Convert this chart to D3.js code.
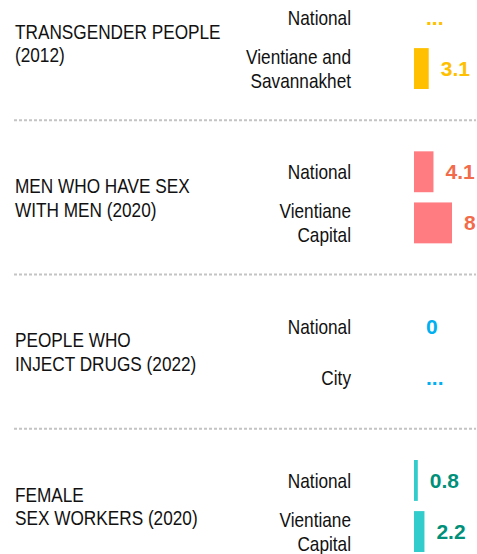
<!DOCTYPE html>
<html>
<head>
	<meta charset="utf-8">
	<script src="https://cdn.jsdelivr.net/npm/d3@7"></script>
	<title>Key populations</title>
	<style type="text/css">
		body { margin: 0; background: #fff; }
		.lbl { font-family: "Liberation Sans", Arial, sans-serif; font-size: 21px; fill: #111; }
		.val { font-family: "Liberation Sans", Arial, sans-serif; font-size: 21px; font-weight: bold; }
	</style>
</head>
<body>
	<script>
		// data
		var sectionLabels = [
			['TRANSGENDER PEOPLE', '(2012)'],
			['MEN WHO HAVE SEX', 'WITH MEN (2020)'],
			['PEOPLE WHO', 'INJECT DRUGS (2022)'],
			['FEMALE', 'SEX WORKERS (2020)']
		];
		var rowLabels = [
			[['National'], ['Vientiane and', 'Savannakhet']],
			[['National'], ['Vientiane', 'Capital']],
			[['National'], ['City']],
			[['National'], ['Vientiane', 'Capital']]
		];
		// null = no data ("...")
		var values = [
			[null, 3.1],
			[4.1, 8],
			[0, null],
			[0.8, 2.2]
		];

		var barColors = ['#FFC000', '#FF7C80', '#00B0F0', '#33CCCC'];
		var textColors = ['#FFC000', '#F26B4A', '#00B0F0', '#00907A'];

		var svgWidth = 477;
		var svgHeight = 554;
		var lineGap = 24;
		var narrow = 0.82;	// no narrow font installed, squeeze the regular one

		var svg = d3.select('body')
				.append('svg')
				.attr('width', svgWidth)
				.attr('height', svgHeight);

		var ySection = d3.scaleLinear()
				.domain([0, sectionLabels.length - 1])
				.range([43, 506]);

		var yRow = d3.scaleBand()
				.domain([0, 1])
				.range([-46, 46])
				.paddingInner(0.2);

		var xScale = d3.scaleLinear()
				.domain([0, 8])
				.range([414, 452]);

		// separators
		svg.selectAll('line.sep')
			.data(d3.range(1, sectionLabels.length))
			.enter()
			.append('line')
				.attr('class', 'sep')
				.attr('x1', 14)
				.attr('x2', 476)
				.attr('y1', function (d) { return ySection(d - 0.5); })
				.attr('y2', function (d) { return ySection(d - 0.5); })
				.attr('stroke', '#c4c4c4')
				.attr('stroke-width', 2)
				.attr('stroke-dasharray', '3,2');

		function multiLine(sel, lines, x, cy) {
			var first = cy - (lines.length - 1) * lineGap / 2 + 7.5;
			sel.attr('transform', 'translate(' + x + ',0) scale(' + narrow + ',1)');
			sel.selectAll('tspan')
				.data(lines)
				.enter()
				.append('tspan')
					.attr('x', 0)
					.attr('y', function (d, i) { return first + i * lineGap; })
					.text(function (d) { return d; });
		}

		var sections = svg.selectAll('g.section')
			.data(sectionLabels)
			.enter()
			.append('g')
				.attr('class', 'section')
				.attr('transform', function (d, i) { return 'translate(0,' + ySection(i) + ')'; });

		sections.each(function (d, si) {
			var g = d3.select(this);

			g.append('text')
				.attr('class', 'lbl')
				.call(multiLine, d, 15, 0);

			rowLabels[si].forEach(function (lines, ri) {
				var cy = yRow(ri) + yRow.bandwidth() / 2;
				g.append('text')
					.attr('class', 'lbl')
					.attr('text-anchor', 'end')
					.call(multiLine, lines, 351, cy);
			});

			var rows = g.selectAll('g.row')
				.data(values[si])
				.enter()
				.append('g')
					.attr('class', 'row');

			rows.filter(function (v) { return v !== null && v > 0; })
				.append('rect')
					.attr('x', xScale(0))
					.attr('y', function (v) { return yRow(values[si].indexOf(v)); })
					.attr('width', function (v) { return xScale(v) - xScale(0); })
					.attr('height', yRow.bandwidth())
					.attr('fill', barColors[si]);

			rows.append('text')
				.attr('class', 'val')
				.attr('x', function (v) { return xScale(v === null ? 0 : v) + 12; })
				.attr('y', function (v, ri) { return yRow(ri) + yRow.bandwidth() / 2 + 7.5; })
				.attr('fill', textColors[si])
				.text(function (v) { return v === null ? '...' : v; });
		});
	</script>
</body>
</html>
